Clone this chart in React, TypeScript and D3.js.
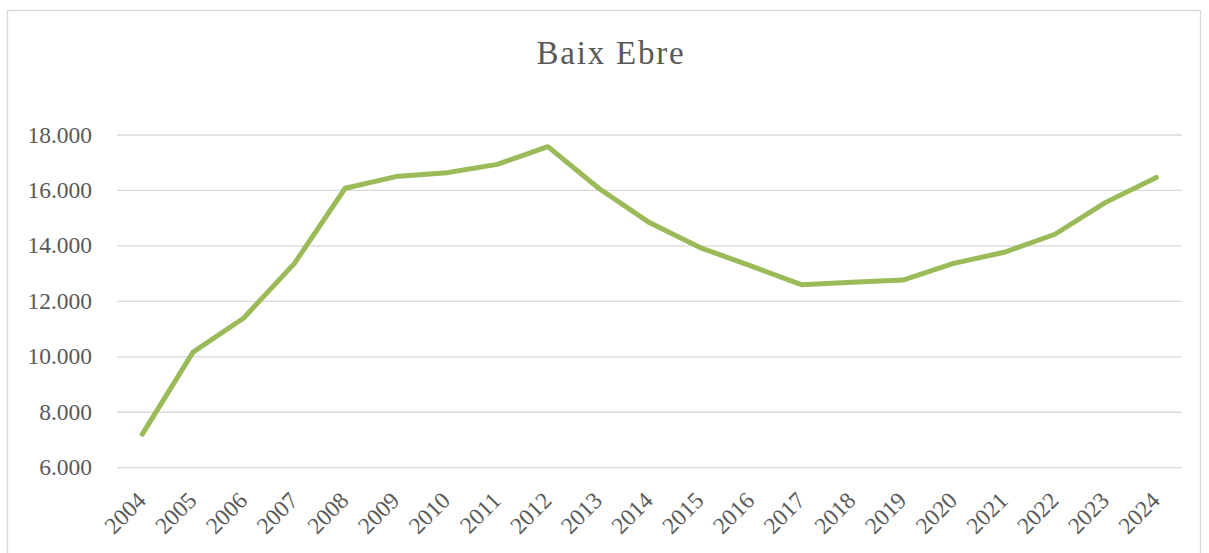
import { useEffect, useRef } from "react";
import * as d3 from "d3";

const title = "Baix Ebre";

const years = [
  "2004", "2005", "2006", "2007", "2008", "2009", "2010", "2011", "2012", "2013", "2014",
  "2015", "2016", "2017", "2018", "2019", "2020", "2021", "2022", "2023", "2024",
];

const values = [
  7210, 10170, 11400, 13370, 16080, 16500, 16640, 16940, 17580, 16080, 14840,
  13940, 13280, 12600, 12690, 12770, 13370, 13770, 14420, 15570, 16470,
];

const yTicks = [6000, 8000, 10000, 12000, 14000, 16000, 18000];

type Point = { year: string; value: number };

const numberFormat = d3
  .formatLocale({ decimal: ",", thousands: ".", grouping: [3], currency: ["", " €"] })
  .format(",d");

export default function App() {
  const ref = useRef<SVGSVGElement | null>(null);

  useEffect(() => {
    const node = ref.current;
    if (!node) return;

    const width = 1209;
    const height = 553;
    const marginLeft = 117;
    const marginRight = 27.3;
    const plotTop = 135;
    const plotBottom = 467.7;

    const text = "#595959";
    const grid = "#d9d9d9";
    const green = "#9bbb59";
    const font = "'Liberation Serif', serif";

    const svg = d3.select(node);
    svg.selectAll("*").remove();
    svg.attr("width", width).attr("height", height).attr("viewBox", `0 0 ${width} ${height}`);

    svg
      .append("rect")
      .attr("x", 7.5)
      .attr("y", 10.5)
      .attr("width", 1193)
      .attr("height", 570)
      .attr("fill", "#ffffff")
      .attr("stroke", grid)
      .attr("stroke-width", 1.3);

    const x = d3
      .scalePoint<string>()
      .domain(years)
      .range([marginLeft, width - marginRight])
      .padding(0.5);

    const y = d3.scaleLinear().domain([6000, 18000]).range([plotBottom, plotTop]);

    svg
      .append("g")
      .selectAll("line")
      .data(yTicks)
      .join("line")
      .attr("x1", marginLeft)
      .attr("x2", width - marginRight)
      .attr("y1", (d) => y(d))
      .attr("y2", (d) => y(d))
      .attr("stroke", grid)
      .attr("stroke-width", 1.3);

    svg
      .append("g")
      .selectAll("text")
      .data(yTicks)
      .join("text")
      .attr("x", 92)
      .attr("y", (d) => y(d) + 7.5)
      .attr("text-anchor", "end")
      .attr("font-family", font)
      .attr("font-size", 23.5)
      .attr("fill", text)
      .text((d) => numberFormat(d));

    svg
      .append("g")
      .selectAll("text")
      .data(years)
      .join("text")
      .attr("transform", (d) => `translate(${(x(d) ?? 0) + 5},502) rotate(-45)`)
      .attr("text-anchor", "end")
      .attr("font-family", font)
      .attr("font-size", 23.5)
      .attr("fill", text)
      .text((d) => d);

    const points: Point[] = years.map((year, i) => ({ year, value: values[i] }));

    const line = d3
      .line<Point>()
      .x((d) => x(d.year) ?? 0)
      .y((d) => y(d.value));

    svg
      .append("path")
      .datum(points)
      .attr("d", line)
      .attr("fill", "none")
      .attr("stroke", green)
      .attr("stroke-width", 5)
      .attr("stroke-linejoin", "round")
      .attr("stroke-linecap", "round");

    svg
      .append("text")
      .attr("x", 611)
      .attr("y", 64)
      .attr("text-anchor", "middle")
      .attr("font-family", font)
      .attr("font-size", 33)
      .attr("letter-spacing", 1.8)
      .attr("fill", text)
      .text(title);
  }, []);

  return (
    <svg
      ref={ref}
      style={{ position: "fixed", left: 0, top: 0, display: "block", background: "#ffffff" }}
    />
  );
}
